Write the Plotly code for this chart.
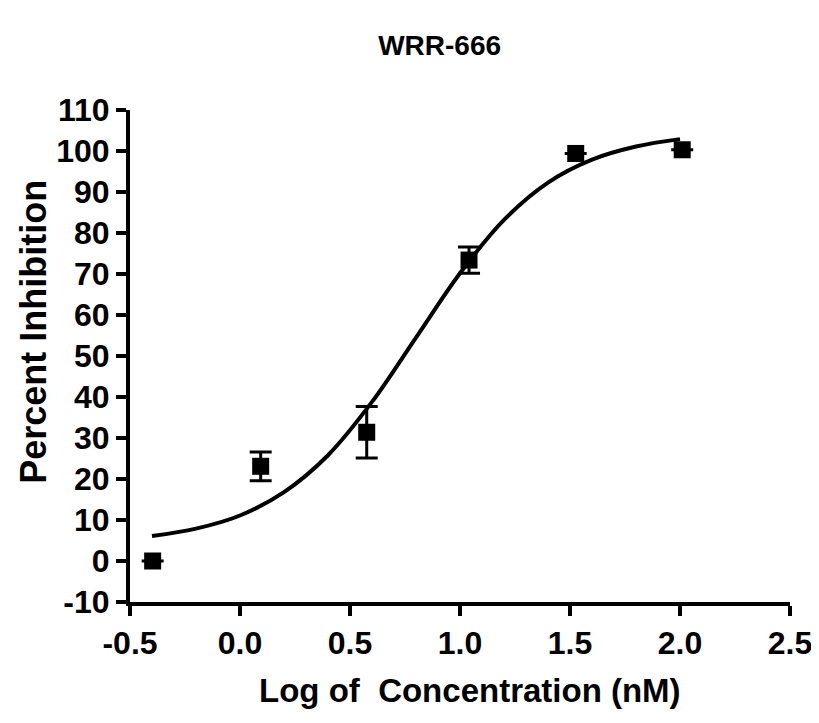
import plotly.graph_objects as go

# Data
log_conc = [-0.397, 0.094, 0.576, 1.041, 1.526, 2.01]
pct_inhib = [0.0, 23.1, 31.4, 73.4, 99.4, 100.3]
sem = [0.0, 3.5, 6.3, 3.2, 0.0, 0.0]

curve_x = [-0.4, -0.2, 0.0, 0.2, 0.4, 0.6, 0.8, 1.0, 1.2, 1.4, 1.6, 1.8, 2.0]
curve_y = [6.1, 7.9, 11.1, 16.8, 25.8, 38.8, 54.5, 70.2, 83.2, 92.3, 97.9, 101.1, 102.9]

x_ticks = [-0.5, 0.0, 0.5, 1.0, 1.5, 2.0, 2.5]
y_ticks = [-10, 0, 10, 20, 30, 40, 50, 60, 70, 80, 90, 100, 110]

FONT = "Liberation Sans, Arial, sans-serif"

fig = go.Figure()
fig.add_trace(go.Scatter(
    x=curve_x, y=curve_y, mode="lines", line=dict(color="black", width=4, shape="spline"),
    hoverinfo="skip", showlegend=False))
fig.add_trace(go.Scatter(
    x=log_conc, y=pct_inhib, mode="markers",
    marker=dict(symbol="square", size=17, color="black"),
    error_y=dict(type="data", array=sem, visible=True, color="black", thickness=3, width=11),
    showlegend=False, cliponaxis=False))

fig.update_layout(
    width=819, height=723,
    paper_bgcolor="white", plot_bgcolor="white",
    margin=dict(l=122, r=37, t=102, b=129, autoexpand=False),
    title=dict(text="WRR-666", x=0.527, xanchor="center", y=0.949, yanchor="middle",
               font=dict(family=FONT, size=28, color="black", weight="bold")),
    font=dict(family=FONT, color="black"),
)
fig.update_xaxes(
    range=[-0.5, 2.5], tickmode="array", tickvals=x_ticks,
    ticktext=[f"{v:.1f}" for v in x_ticks], automargin=False,
    showgrid=False, zeroline=False, showline=True, linecolor="black", linewidth=4,
    ticks="outside", ticklen=10, tickwidth=4, tickcolor="black",
    tickfont=dict(family=FONT, size=32, color="black", weight="bold"),
)
fig.update_yaxes(
    range=[-10, 110], tickmode="array", tickvals=y_ticks,
    ticktext=[str(v) for v in y_ticks], automargin=False,
    showgrid=False, zeroline=False, showline=True, linecolor="black", linewidth=4,
    ticks="outside", ticklen=10, tickwidth=4, tickcolor="black",
    tickfont=dict(family=FONT, size=32, color="black", weight="bold"),
)

# Axis titles as annotations for exact placement
fig.add_annotation(text="Log of\u00a0 Concentration (nM)", xref="paper", yref="paper",
                   x=0.515, y=-0.179, xanchor="center", yanchor="middle", showarrow=False,
                   font=dict(family=FONT, size=33, color="black", weight="bold"))
fig.add_annotation(text="Percent Inhibition", xref="paper", yref="paper",
                   x=-0.1455, y=0.549, xanchor="center", yanchor="middle", showarrow=False,
                   textangle=-90,
                   font=dict(family=FONT, size=36, color="black", weight="bold"))

fig.write_html("out.html")
